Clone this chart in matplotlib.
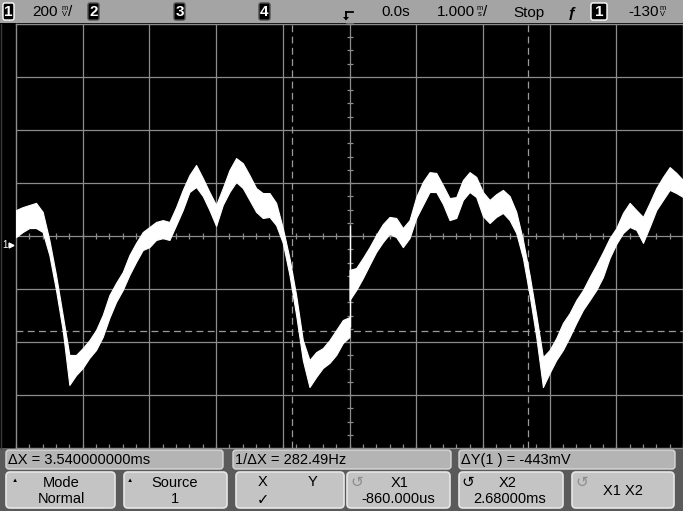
import matplotlib
matplotlib.use("Agg")
import matplotlib.pyplot as plt
import numpy as np
from matplotlib.patches import FancyBboxPatch, Rectangle, Polygon

plt.rcParams['font.family'] = ['Liberation Sans', 'DejaVu Sans']

# scope settings: 1 ms/div, 200 mV/div, screen centre at +34 mV
t_div = 1.0
v_div = 200.0
v_center = 34.0

# trace, sampled every 0.1 ms; the trace jumps at t = 0 (trigger)
t_a = np.arange(-50, 1) / 10.0
hi_a = [132, 143, 151, 159, 125, 19, -113, -264, -415, -415,
        -389, -359, -321, -264, -189, -143, -102, -38, 8, 49,
        68, 87, 94, 87, 143, 208, 264, 302, 253, 200,
        151, 215, 283, 328, 309, 264, 215, 196, 196, 159,
        64, -49, -189, -359, -434, -404, -389, -359, -321, -283,
        -272]
lo_a = [30, 49, 64, 64, 49, -38, -170, -321, -528, -491,
        -464, -426, -396, -347, -275, -215, -170, -113, -64, -19,
        -8, 19, 26, 19, 75, 132, 200, 219, 185, 132,
        72, 151, 200, 238, 215, 170, 125, 102, 106, 75,
        8, -113, -264, -434, -536, -498, -464, -445, -415, -370,
        -347]
t_b = np.arange(0, 51) / 10.0
hi_b = [-94, -87, -49, -8, 38, 79, 106, 102, 64, 94,
        181, 238, 275, 272, 226, 177, 181, 245, 275, 257,
        200, 170, 192, 208, 185, 125, 19, -113, -264, -423,
        -396, -351, -294, -257, -208, -170, -121, -75, -26, 26,
        64, 121, 159, 132, 106, 159, 215, 257, 294, 272,
        245]
lo_b = [-208, -170, -125, -75, -26, 11, 42, 30, -8, 26,
        102, 151, 200, 200, 155, 94, 102, 170, 200, 181,
        109, 83, 106, 121, 94, 45, -49, -189, -347, -536,
        -483, -434, -396, -347, -294, -245, -208, -170, -121, -49,
        4, 45, 68, 57, 8, 68, 132, 170, 208, 196,
        181]
spike_t = 0.0
spike_range = (-309, 75)

# cursors
x1_ms = -0.860
x2_ms = 2.680
ycur_mV = -325

header_items = ["0.0s", "Stop"]

fig = plt.figure(figsize=(6.83, 5.11), dpi=100, facecolor='black')

# --- UI layer in pixel units
ui = fig.add_axes([0, 0, 1, 1], zorder=0)
ui.set_xlim(0, 683)
ui.set_ylim(511, 0)
ui.axis('off')

ui.add_patch(Rectangle((0, 0), 683, 23.5, fc='#a4a4a4', ec='none'))
ui.add_patch(Rectangle((0, 448.5), 683, 63, fc='#5a5a5a', ec='none'))
ui.add_patch(Rectangle((0, 23.5), 16, 425, fc='black', ec='none'))
ui.plot([1, 1], [24, 448], color='#3a3a3a', lw=1)


def chbox(x0, x1, label, outline):
    ui.add_patch(FancyBboxPatch((x0, 3), x1 - x0, 17,
                                boxstyle='round,pad=0,rounding_size=2',
                                fc='black', ec='white' if outline else '#505050', lw=1))
    ui.text((x0 + x1) / 2, 12, label, color='white', ha='center', va='center',
            fontsize=11, fontweight='bold')


def stacked(x, top, bot):
    ui.text(x, 8.5, top, fontsize=5.5, ha='center', va='center', color='black')
    ui.text(x, 15, bot, fontsize=5.5, ha='center', va='center', color='black')


hfs = 11
chbox(3, 14, '1', True)
ui.text(32, 12.5, '200', fontsize=hfs, va='center', ha='left')
stacked(64.5, 'm', 'V')
ui.text(68, 12.5, '/', fontsize=hfs, va='center', ha='left')
chbox(88, 99, '2', False)
chbox(174, 185, '3', False)
chbox(259, 270, '4', False)

# trigger position marker
ui.plot([346, 353], [12, 12], color='black', lw=1.3)
ui.plot([346, 346], [12, 18], color='black', lw=1.3)
ui.add_patch(Polygon([[343, 17], [349, 17], [346, 20.5]], closed=True,
                     fc='black', ec='none'))
ui.add_patch(Polygon([[346, 23.5], [354, 23.5], [350, 28]], closed=True,
                     fc='#b8b8b8', ec='none', zorder=5))

ui.text(381, 12.5, header_items[0], fontsize=hfs, va='center', ha='left')
ui.text(437, 12.5, '1.000', fontsize=hfs, va='center', ha='left')
stacked(479.5, 'm', 's')
ui.text(483, 12.5, '/', fontsize=hfs, va='center', ha='left')
ui.text(513, 12.5, header_items[1], fontsize=hfs, va='center', ha='left')
ui.text(572, 12.5, '\u0192', fontsize=hfs, va='center', ha='center', fontweight='bold')
chbox(591, 607, '1', True)
ui.text(628, 12.5, '-130', fontsize=hfs, va='center', ha='left')
stacked(663, 'm', 'V')

# measurement boxes
mfs = 10.5
meas = [(6, 223, '\u0394X = 3.540000000ms'),
        (233, 451, '1/\u0394X = 282.49Hz'),
        (459, 675, '\u0394Y(1 ) = -443mV')]
for x0, x1, s in meas:
    ui.add_patch(FancyBboxPatch((x0, 450), x1 - x0, 19,
                                boxstyle='round,pad=0,rounding_size=3',
                                fc='#b4b4b4', ec='#d8d8d8', lw=1))
    ui.text(x0 + 2, 460, s, fontsize=mfs, va='center', ha='left')

# softkeys
keys = [(6, 115), (124, 227), (236, 344), (347, 450), (459, 563), (572, 674)]
for x0, x1 in keys:
    ui.add_patch(FancyBboxPatch((x0, 472), x1 - x0, 36,
                                boxstyle='round,pad=0,rounding_size=4',
                                fc='#c4c4c4', ec='#e6e6e6', lw=1.2))
ui.text(61, 483, 'Mode', fontsize=mfs, ha='center', va='center')
ui.text(61, 499, 'Normal', fontsize=mfs, ha='center', va='center')
ui.text(175, 483, 'Source', fontsize=mfs, ha='center', va='center')
ui.text(175, 499, '1', fontsize=mfs, ha='center', va='center')
for xt in (15, 130):
    ui.text(xt, 480, '\u25b2', fontsize=4.5, ha='center', va='center')
ui.text(263, 482, 'X', fontsize=mfs, ha='center', va='center')
ui.text(312, 482, 'Y', fontsize=mfs, ha='center', va='center')
ui.text(263, 500, '\u2713', fontsize=mfs, ha='center', va='center', family='DejaVu Sans')
ui.text(357, 482, '\u21ba', fontsize=11, ha='center', va='center', color='#8c8c8c', family='DejaVu Sans')
ui.text(400, 483, 'X1', fontsize=mfs, ha='center', va='center')
ui.text(398, 499, '-860.000us', fontsize=mfs, ha='center', va='center')
ui.text(468, 482, '\u21ba', fontsize=11, ha='center', va='center', color='black', family='DejaVu Sans')
ui.text(508, 483, 'X2', fontsize=mfs, ha='center', va='center')
ui.text(510, 499, '2.68000ms', fontsize=mfs, ha='center', va='center')
ui.text(582, 482, '\u21ba', fontsize=11, ha='center', va='center', color='#8c8c8c', family='DejaVu Sans')
ui.text(623, 491, 'X1 X2', fontsize=mfs, ha='center', va='center')

# --- graticule + trace
ax = fig.add_axes([16 / 683, 63 / 511, 667 / 683, 424 / 511], zorder=1)
ax.set_facecolor('black')
ax.set_xlim(-5 * t_div, 5 * t_div)
ax.set_ylim(v_center - 4 * v_div, v_center + 4 * v_div)
ax.set_xticks([])
ax.set_yticks([])
for sp in ax.spines.values():
    sp.set_color('#8c8c8c')
    sp.set_linewidth(1)

gcol = '#8c8c8c'
for k in range(-4, 5):
    ax.axvline(k * t_div, color=gcol, lw=0.9, zorder=1)
for k in range(-3, 4):
    ax.axhline(v_center + k * v_div, color=gcol, lw=0.9, zorder=1)
mx = np.arange(-25, 26) * t_div / 5
ax.plot(mx, np.full(mx.size, v_center), '|', color=gcol, ms=4, mew=0.9, zorder=1)
ax.plot(mx, np.full(mx.size, v_center - 4 * v_div), marker=2, ls='none',
        color=gcol, ms=3, mew=0.9, zorder=1, clip_on=False)
my = v_center + np.arange(-16, 17) * v_div / 4
ax.plot(np.zeros(my.size), my, '_', color=gcol, ms=4, mew=0.9, zorder=1)

# cursors
ax.axvline(x1_ms, color='#9a9a9a', lw=0.9, dashes=(5.5, 3.5), zorder=2)
ax.axvline(x2_ms, color='#9a9a9a', lw=0.9, dashes=(5.5, 3.5), zorder=2)
ax.axhline(ycur_mV, color='#9a9a9a', lw=0.9, dashes=(5.5, 3.5), zorder=2)

# trace
ax.fill_between(t_a, lo_a, hi_a, color='white', lw=0.8, zorder=3)
ax.fill_between(t_b, lo_b, hi_b, color='white', lw=0.8, zorder=3)
ax.vlines(spike_t, spike_range[0], spike_range[1], color='white', lw=1, zorder=3)

# ground marker for channel 1
tr = ax.get_yaxis_transform()
ax.text(-0.017, 0, '1', transform=tr, color='white', fontsize=7, ha='center',
        va='center', clip_on=False)
ax.plot([-0.007], [0], marker='>', color='white', ms=3.5, transform=tr, clip_on=False)

fig.savefig('out.png', dpi=100, facecolor='black')
